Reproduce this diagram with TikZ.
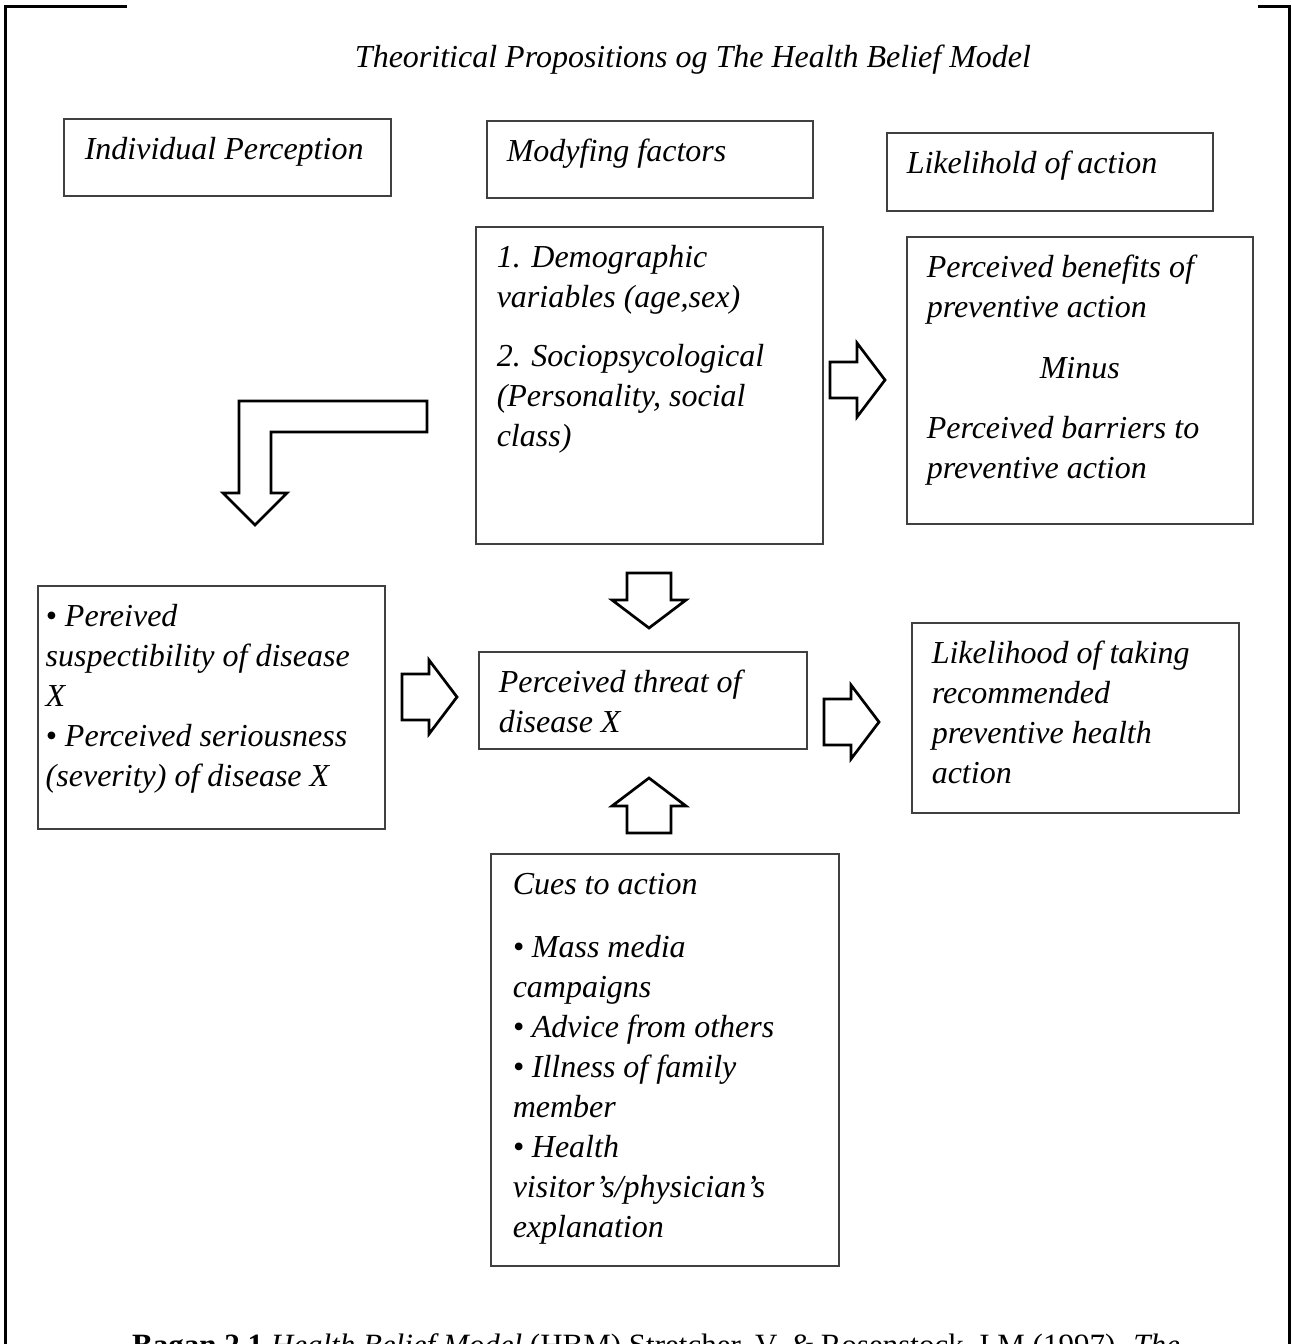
\documentclass[tikz,border=0pt]{standalone}
\usepackage{fontspec}
\setmainfont{Liberation Serif}
\usetikzlibrary{calc}

% top-aligned text inside a fixed-size box
\newlength{\cellpad}
\setlength{\cellpad}{13pt}
\newcommand{\cellbox}[4]{\parbox[t][#2][t]{#1}{\raggedright\leftskip=#3\relax
  \vspace*{\cellpad}\strut#4}}

\begin{document}
\begin{tikzpicture}[x=1pt, y=-1pt,
  font=\fontsize{32}{40}\selectfont\itshape,
  box/.style={draw=black!75, line width=1.5pt, anchor=north west, inner sep=0pt},
  frame/.style={line width=3pt},
  arrline/.style={line width=2.7pt},
  blockr/.pic={\draw[arrline] (0,-#1) -- (27,-#1) -- (27,-37) -- (55,0)
    -- (27,37) -- (27,#1) -- (0,#1) -- cycle;}]
  \clip (0,0) rectangle (1292,1344);

  % outer frame
  \coordinate (fL) at (5,6);
  \coordinate (fR) at (1289,6);
  \draw[frame] (127,6) -- (fL) -- (5,1350);
  \draw[frame] (1258,6) -- (fR) -- (1289,1350);

  \node[anchor=base] (title) at (693,67)
    {Theoritical Propositions og The Health Belief Model};

  % column heads
  \node[box] (ip) at (63,118) {\cellbox{327pt}{77pt}{21pt}{Individual Perception}};
  \node[box] (mf) at (486,120) {\cellbox{326pt}{77pt}{20pt}{Modyfing factors}};
  \node[box] (la) at (886,132) {\cellbox{326pt}{78pt}{20pt}{Likelihold of action}};

  % boxes
  \node[box] (demo) at (475,226) {\cellbox{347pt}{317pt}{21pt}{1. Demographic\\
    variables (age,sex)\\[19pt]
    2. Sociopsycological\\
    (Personality, social\\
    class)}};
  \node[box] (ben) at (906,236) {\cellbox{346pt}{287pt}{20pt}{Perceived benefits of\\
    preventive action\\[21pt]
    \hspace*{113pt}Minus\\[20pt]
    Perceived barriers to\\
    preventive action}};
  \node[box] (perc) at (37,585) {\cellbox{347pt}{243pt}{8pt}{\textbullet{} Pereived\\
    suspectibility of disease\\
    X\\
    \textbullet{} Perceived seriousness\\
    (severity) of disease X}};
  \node[box] (threat) at (478,651) {\cellbox{328pt}{97pt}{20pt}{Perceived threat of\\
    disease X}};
  \node[box] (likely) at (911,622) {\cellbox{327pt}{190pt}{20pt}{Likelihood of taking\\
    recommended\\
    preventive health\\
    action}};
  \node[box] (cues) at (490,853) {\cellbox{348pt}{412pt}{22pt}{Cues to action\\[23pt]
    \textbullet{} Mass media\\
    campaigns\\
    \textbullet{} Advice from others\\
    \textbullet{} Illness of family\\
    member\\
    \textbullet{} Health\\
    visitor’s/physician’s\\
    explanation}};

  % block arrows
  \pic (aBen) at (830,380) {blockr=18};
  \pic (aThreat) at (402,697) {blockr=23};
  \pic (aLikely) at (824,722) {blockr=23};
  \pic[rotate=-90] (aDown) at (649,573) {blockr=22};
  \pic[rotate=90] (aUp) at (649,833) {blockr=22};
  \draw[arrline] (427,401) -- (239,401) -- (239,493) -- (223,493) -- (255,525)
    -- (287,493) -- (271,493) -- (271,432) -- (427,432) -- cycle;

  \node[anchor=base west, inner sep=0pt, font=\fontsize{31}{38}\selectfont\itshape]
    (caption) at (132,1355)
    {\textbf{\upshape Bagan 2.1} Health Belief Model {\upshape (HBM) Stretcher, V.}
     \& {\upshape Rosenstock, I.M (1997).} The};
\end{tikzpicture}
\end{document}
